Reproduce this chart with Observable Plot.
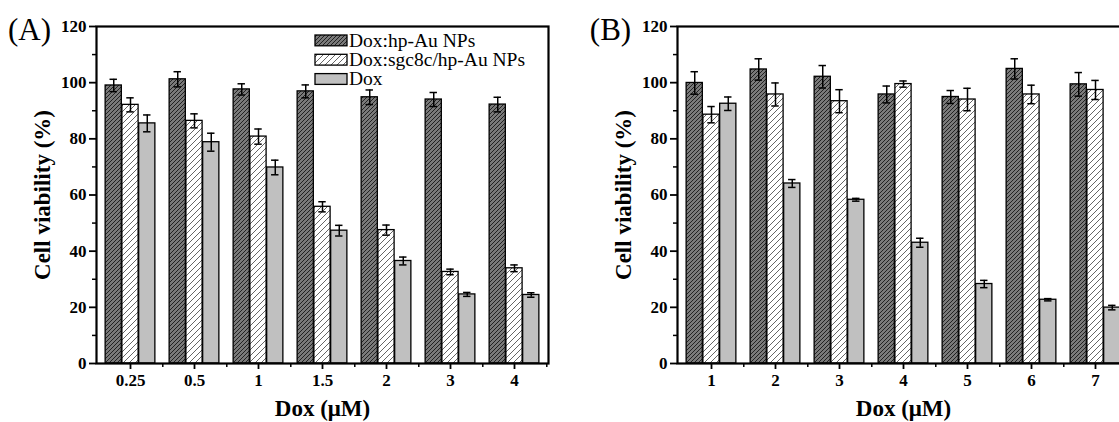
<!DOCTYPE html>
<html><head><meta charset="utf-8">
<script src="https://cdn.jsdelivr.net/npm/d3@7"></script>
<script src="https://cdn.jsdelivr.net/npm/@observablehq/plot@0.6"></script>
<style>
html,body{margin:0;padding:0;background:#fff;overflow:hidden;width:1119px;height:422px;}
#wrap{position:relative;width:1119px;height:422px;overflow:hidden;background:#fff;}
.panel{position:absolute;top:0;}
</style></head><body><div id="wrap"></div>
<script>
// ---------- data ----------
const seriesNames = ["Dox:hp-Au NPs", "Dox:sgc8c/hp-Au NPs", "Dox"];

const concA = ["0.25", "0.5", "1", "1.5", "2", "3", "4"];
const hpAuA = [99.0, 101.2, 97.6, 96.9, 94.8, 94.0, 92.2];
const hpAuErrA = [2.2, 2.7, 2.0, 2.3, 2.6, 2.5, 2.6];
const sgcA = [92.1, 86.4, 80.8, 55.8, 47.5, 32.6, 33.9];
const sgcErrA = [2.5, 2.5, 2.7, 1.8, 1.8, 1.0, 1.2];
const doxA = [85.5, 78.8, 69.8, 47.3, 36.5, 24.6, 24.4];
const doxErrA = [3.0, 3.2, 2.6, 1.9, 1.4, 0.7, 0.8];

const concB = ["1", "2", "3", "4", "5", "6", "7"];
const hpAuB = [99.9, 104.7, 102.1, 95.8, 94.9, 104.9, 99.4];
const hpAuErrB = [4.0, 3.8, 4.0, 3.0, 2.3, 3.6, 4.2];
const sgcB = [88.6, 95.8, 93.4, 99.5, 94.0, 95.8, 97.4];
const sgcErrB = [2.9, 4.1, 4.1, 1.1, 4.0, 3.3, 3.4];
const doxB = [92.5, 64.1, 58.3, 43.0, 28.3, 22.7, 19.9];
const doxErrB = [2.4, 1.4, 0.5, 1.6, 1.3, 0.4, 0.8];

const yTicks = [0, 20, 40, 60, 80, 100, 120];
const yMinor = [10, 30, 50, 70, 90, 110];
const xLabel = "Dox (μM)";
const yLabel = "Cell viability (%)";

// ---------- styles ----------
const fills = ["url(#hatchDark)", "url(#hatchLight)", "#c0c0c0"];
const font = '"Liberation Serif","Times New Roman",Times,serif';
const W = 560, H = 422, ML = 96, MR = 12, MT = 26, MB = 59;

const wrap = document.getElementById("wrap");

// defs + legend overlay (patterns are document-global ids)
const legendSvg = d3.create("svg")
  .attr("width", W).attr("height", H)
  .attr("class", "panel")
  .style("left", "0px").style("pointer-events", "none").style("z-index", 2);
const defs = legendSvg.append("defs");
const pd = defs.append("pattern").attr("id", "hatchDark")
  .attr("patternUnits", "userSpaceOnUse").attr("width", 4).attr("height", 4);
pd.append("rect").attr("width", 4).attr("height", 4).attr("fill", "#7a7a7a");
pd.append("path").attr("d", "M-1,1 l2,-2 M0,4 l4,-4 M3,5 l2,-2")
  .attr("stroke", "#222").attr("stroke-width", 1.0);
const pl = defs.append("pattern").attr("id", "hatchLight")
  .attr("patternUnits", "userSpaceOnUse").attr("width", 6).attr("height", 6);
pl.append("rect").attr("width", 6).attr("height", 6).attr("fill", "#fff");
pl.append("path").attr("d", "M-1,1 l2,-2 M0,6 l6,-6 M5,7 l2,-2")
  .attr("stroke", "#555").attr("stroke-width", 0.9);

const lg = legendSvg.append("g");
seriesNames.forEach((name, k) => {
  const y0 = 35 + k * 19.3;
  lg.append("rect").attr("x", 315).attr("y", y0).attr("width", 32).attr("height", 10.8)
    .attr("fill", fills[k]).attr("stroke", "#000").attr("stroke-width", 1.3);
  lg.append("text").attr("x", 349).attr("y", y0 + 11.8)
    .style("font-family", font).attr("font-size", 19.5)
    .text(name);
});

function makePanel(panelLabel, conc, vals, errs, left) {
  const bw = (W - ML - MR) / conc.length;
  const barW = 16.77;
  const off0 = (bw - 3 * barW) / 2;
  const marks = [];
  for (let i = 0; i < 3; i++) {
    const data = conc.map((c, j) => ({c, v: vals[i][j], e: errs[i][j]}));
    const dx = (i - 1) * barW;
    marks.push(Plot.barY(data, {
      x: "c", y: "v", fill: fills[i], stroke: "#000", strokeWidth: 1.3,
      insetLeft: off0 + i * barW, insetRight: bw - off0 - (i + 1) * barW
    }));
    marks.push(Plot.ruleX(data, {x: "c", y1: d => d.v - d.e, y2: d => d.v + d.e, dx, stroke: "#000", strokeWidth: 1.5}));
    for (const s of [1, -1]) {
      marks.push(Plot.tickY(data, {
        x: "c", y: d => d.v + s * d.e, dx, stroke: "#000", strokeWidth: 1.5,
        insetLeft: (bw - 8) / 2, insetRight: (bw - 8) / 2
      }));
    }
  }
  marks.push(
    Plot.axisY({ticks: yTicks, tickSize: 7, tickPadding: 3, fontSize: 17, fontWeight: "bold", strokeWidth: 1.8, label: null}),
    Plot.axisY({ticks: yMinor, tickSize: 4, tickFormat: () => "", strokeWidth: 1.5, label: null}),
    Plot.axisX({tickSize: 6, tickPadding: 4, fontSize: 17, fontWeight: "bold", strokeWidth: 1.8, label: null}),
    Plot.tickX(conc, {x: d => d, dx: bw / 2, insetTop: H - MT - MB, insetBottom: -4, stroke: "#000", strokeWidth: 1.5}),
    Plot.frame({stroke: "#000", strokeWidth: 2.2}),
    Plot.text([xLabel], {text: d => d, frameAnchor: "bottom", dy: 45, lineAnchor: "middle", fontSize: 23, fontWeight: "bold"}),
    Plot.text([yLabel], {text: d => d, frameAnchor: "left", dx: -54, rotate: -90, lineAnchor: "middle", textAnchor: "middle", fontSize: 23, fontWeight: "bold"}),
    Plot.text([panelLabel], {text: d => d, frameAnchor: "top-left", dx: -67, dy: 4, lineAnchor: "middle", textAnchor: "middle", fontSize: 31})
  );
  const p = Plot.plot({
    width: W, height: H,
    marginLeft: ML, marginRight: MR, marginTop: MT, marginBottom: MB,
    style: {fontFamily: font, background: "transparent", color: "#000", overflow: "visible"},
    x: {type: "band", domain: conc, padding: 0},
    y: {domain: [0, 120]},
    marks
  });
  p.classList.add("panel");
  p.style.left = left + "px";
  wrap.appendChild(p);
}

makePanel("(A)", concA, [hpAuA, sgcA, doxA], [hpAuErrA, sgcErrA, doxErrA], 0);
makePanel("(B)", concB, [hpAuB, sgcB, doxB], [hpAuErrB, sgcErrB, doxErrB], 581);
wrap.appendChild(legendSvg.node());
</script>
</body></html>
